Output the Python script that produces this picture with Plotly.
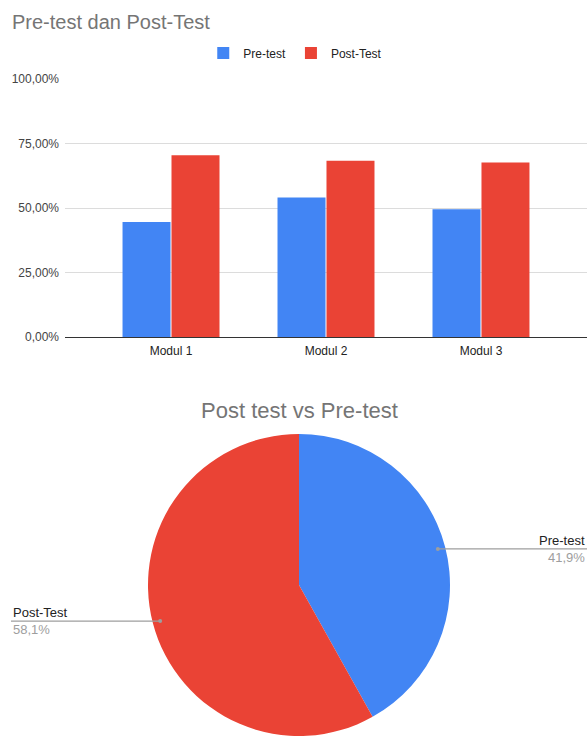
import math
import plotly.graph_objects as go

W, H = 587, 736

categories = ["Modul 1", "Modul 2", "Modul 3"]
pre_test = [0.446, 0.541, 0.495]
post_test = [0.704, 0.683, 0.676]
y_ticks = [0, 0.25, 0.5, 0.75, 1.0]

pie_labels = ["Pre-test", "Post-Test"]
pie_values = [41.9, 58.1]

BLUE = "#4285F4"
RED = "#EA4335"
FONT = "Liberation Sans, Arial, sans-serif"

fig = go.Figure()
fig.add_trace(go.Bar(name="Pre-test", x=categories, y=pre_test, marker_color=BLUE,
                     marker_line_width=0, xaxis="x", yaxis="y"))
fig.add_trace(go.Bar(name="Post-Test", x=categories, y=post_test, marker_color=RED,
                     marker_line_width=0, xaxis="x", yaxis="y"))

# pie geometry (pixels)
pie_x0, pie_x1 = 146, 452
pie_h = 302
fig.add_trace(go.Pie(labels=pie_labels, values=pie_values, sort=False,
                     direction="clockwise", rotation=0,
                     marker=dict(colors=[BLUE, RED], line=dict(width=0)),
                     textinfo="none", showlegend=False, hoverinfo="label+percent",
                     domain=dict(x=[pie_x0 / W, pie_x1 / W], y=[0, pie_h / H])))

R = min(pie_x1 - pie_x0, pie_h) / 2
cx = (pie_x0 + pie_x1) / 2
cy = H - pie_h / 2

shapes = []
annotations = []
total = sum(pie_values)
cum = 0
for lab, v in zip(pie_labels, pie_values):
    mid = (cum + v / 2) / total * 2 * math.pi
    cum += v
    dx = cx + 0.95 * R * math.sin(mid)
    dy = cy - 0.95 * R * math.cos(mid)
    px, py = dx / W, 1 - dy / H
    right = math.sin(mid) > 0
    x_end = 1.0 if right else 11 / W
    shapes.append(dict(type="line", xref="paper", yref="paper", x0=px, y0=py,
                       x1=x_end, y1=py, line=dict(color="#9e9e9e", width=1.3)))
    shapes.append(dict(type="circle", xref="paper", yref="paper",
                       x0=(dx - 2) / W, x1=(dx + 2) / W, y0=1 - (dy + 2) / H, y1=1 - (dy - 2) / H,
                       fillcolor="#9e9e9e", line=dict(width=0)))
    pct = f"{v / total * 100:.1f}".replace(".", ",") + "%"
    ax = 1.0 if right else 11 / W
    xa = "right" if right else "left"
    annotations.append(dict(text=lab, xref="paper", yref="paper", x=ax, y=py - 1 / H,
                            xanchor=xa, yanchor="bottom", showarrow=False,
                            font=dict(size=13, color="#222222", family=FONT)))
    annotations.append(dict(text=pct, xref="paper", yref="paper", x=ax, y=py + 1 / H,
                            xanchor=xa, yanchor="top", showarrow=False,
                            font=dict(size=13, color="#9e9e9e", family=FONT)))

annotations.append(dict(text="Pre-test dan Post-Test", xref="paper", yref="paper",
                        x=10 / W, y=1 - 22 / H, xanchor="left", yanchor="middle",
                        showarrow=False, font=dict(size=20, color="#757575", family=FONT)))
annotations.append(dict(text="Post test vs Pre-test", xref="paper", yref="paper",
                        x=cx / W, y=1 - 410 / H, xanchor="center", yanchor="middle",
                        showarrow=False, font=dict(size=22, color="#757575", family=FONT)))

fig.update_layout(
    width=W, height=H,
    margin=dict(l=0, r=0, t=0, b=0),
    paper_bgcolor="white", plot_bgcolor="white",
    separators=",.",
    font=dict(family=FONT, size=12, color="#222222"),
    barmode="group", bargap=0.368, bargroupgap=0.02,
    showlegend=True,
    legend=dict(orientation="h", x=0.503, xanchor="center", y=1 - 53 / H, yanchor="middle",
                font=dict(size=12, color="#222222", family=FONT), itemwidth=30),
    xaxis=dict(domain=[65 / W, 1.0], range=[-0.684, 2.684], showgrid=False,
               showline=True, linecolor="#333333", linewidth=1, ticks="",
               ticklabelstandoff=3,
               tickfont=dict(size=12, color="#222222"), automargin=False, fixedrange=True),
    yaxis=dict(domain=[(H - 337) / H, (H - 79) / H], range=[0, 1], tickvals=y_ticks,
               tickformat=".2%", showgrid=True, gridcolor="#dcdcdc", zeroline=False,
               ticklabelstandoff=5,
               tickfont=dict(size=12, color="#444444"), ticks="", automargin=False,
               fixedrange=True),
    shapes=shapes,
    annotations=annotations,
)

fig.write_html("out.html")
